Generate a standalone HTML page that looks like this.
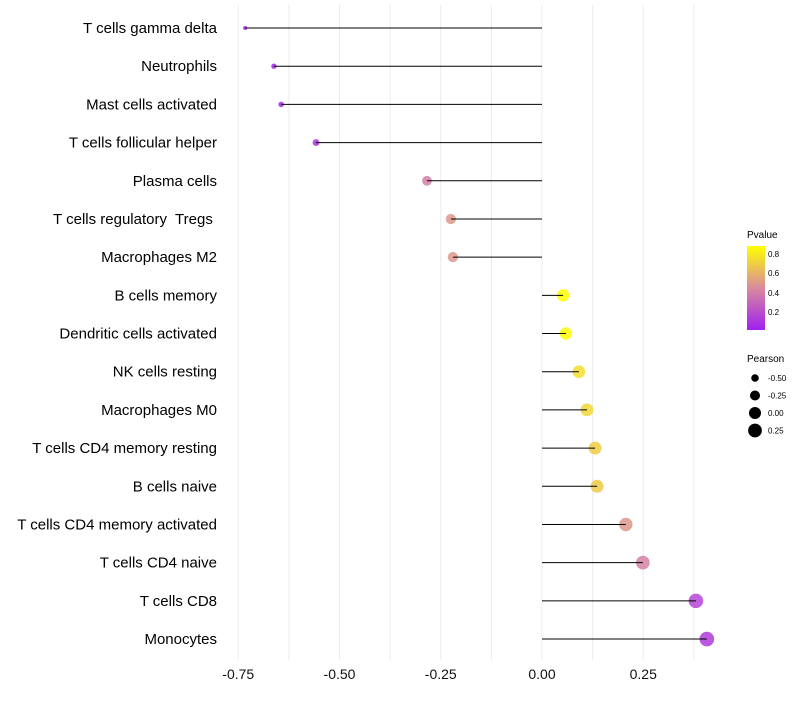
<!DOCTYPE html>
<html><head><meta charset="utf-8"><style>
body{margin:0;background:#fff;font-family:"Liberation Sans",sans-serif}
svg text{font-family:"Liberation Sans",sans-serif;white-space:pre}
</style></head><body>
<svg id="chart" width="800" height="700" xmlns="http://www.w3.org/2000/svg">
<g id="grid"></g>
<g id="marks"></g>
<g id="ylab"></g>
<g id="xlab"></g>
<g id="legend">
<text x="747" y="238" font-size="10">Pvalue</text>
<defs><linearGradient id="pg" x1="0" y1="1" x2="0" y2="0"><stop offset="0" stop-color="#A020F0"/><stop offset="0.5" stop-color="#D98A9E"/><stop offset="1" stop-color="#FFFF00"/></linearGradient></defs>
<rect x="747" y="246" width="18" height="84" fill="url(#pg)"/>
<text x="768" y="257" font-size="8">0.8</text>
<text x="768" y="276" font-size="8">0.6</text>
<text x="768" y="296" font-size="8">0.4</text>
<text x="768" y="315" font-size="8">0.2</text>
<text x="747" y="362" font-size="10">Pearson</text>
</g>
</svg>
<script>
const categories=["T cells gamma delta","Neutrophils","Mast cells activated","T cells follicular helper","Plasma cells","T cells regulatory  Tregs ","Macrophages M2","B cells memory","Dendritic cells activated","NK cells resting","Macrophages M0","T cells CD4 memory resting","B cells naive","T cells CD4 memory activated","T cells CD4 naive","T cells CD8","Monocytes"];
const pearson=[-0.733,-0.662,-0.644,-0.558,-0.284,-0.225,-0.220,0.052,0.059,0.091,0.111,0.131,0.136,0.207,0.249,0.380,0.407];
const pvalue=[0.02,0.05,0.07,0.1,0.4,0.5,0.5,0.88,0.86,0.76,0.73,0.7,0.68,0.5,0.42,0.17,0.13];
const xTicks=[-0.75,-0.5,-0.25,0,0.25];
const xTickLabels=["-0.75","-0.50","-0.25","0.00","0.25"];
const sizeLegend=[-0.5,-0.25,0,0.25];
const sizeLegendLabels=["-0.50","-0.25","0.00","0.25"];
const NS="http://www.w3.org/2000/svg";
const x=v=>542+v*405;
const y=i=>28+i*38.19;
const smin=-0.733,smax=0.407;
const r=v=>{let t=Math.max(0,(v-smin)/(smax-smin));return Math.sqrt(4+50*t);};
function col(p){const t=Math.min(1,Math.max(0,(p-0.02)/(0.88-0.02)));const a=[160,32,240],m=[217,138,158],b=[255,255,0];let c;if(t<0.5){const u=t/0.5;c=a.map((v,k)=>Math.round(v+(m[k]-v)*u));}else{const u=(t-0.5)/0.5;c=m.map((v,k)=>Math.round(v+(b[k]-v)*u));}return `rgb(${c})`;}
function mk(tag,attrs,parent){const e=document.createElementNS(NS,tag);for(const k in attrs)e.setAttribute(k,attrs[k]);document.getElementById(parent).appendChild(e);return e;}
for(let v=-0.75;v<=0.38;v+=0.125){const g=mk('line',{x1:x(v),x2:x(v),y1:5,y2:660,stroke:'#ececec','stroke-width':1},'grid');

}
xTicks.forEach((v,i)=>{const t=mk('text',{x:x(v),y:679,'font-size':14,'text-anchor':'middle',fill:'#111'},'xlab');t.textContent=xTickLabels[i];

});
categories.forEach((c,i)=>{
const t=mk('text',{x:217,y:y(i)+5,'font-size':15,'text-anchor':'end',fill:'#000'},'ylab');t.textContent=c;


const d=mk('circle',{cx:x(pearson[i]),cy:y(i),r:r(pearson[i]),fill:col(pvalue[i]),'fill-opacity':0.85},'marks');


const l=mk('line',{x1:x(pearson[i]),x2:x(0),y1:y(i),y2:y(i),stroke:'#000','stroke-width':1},'marks');


});
sizeLegend.forEach((v,i)=>{const cy=378+i*17.5;
const c=mk('circle',{cx:755,cy:cy,r:r(v),fill:'#000'},'legend');


const t=mk('text',{x:768,y:cy+3,'font-size':8},'legend');t.textContent=sizeLegendLabels[i];

});
</script>
</body></html>
